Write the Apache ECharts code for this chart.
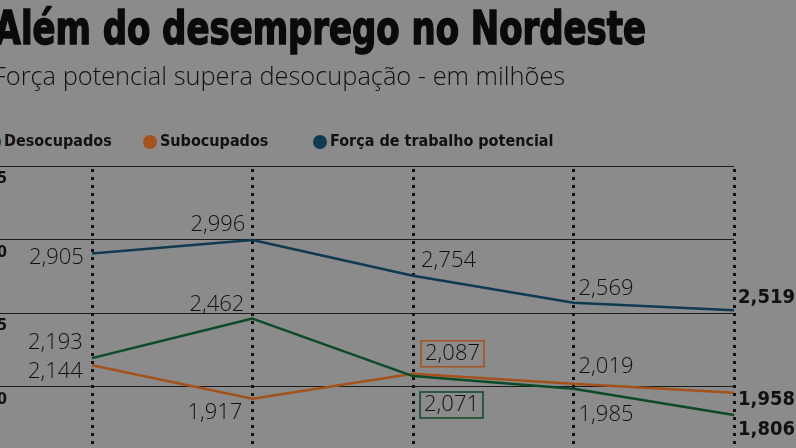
<!DOCTYPE html>
<html>
<head>
<meta charset="utf-8">
<script src="https://cdn.jsdelivr.net/npm/echarts@6/dist/echarts.min.js"></script>
<style>
  html, body { margin: 0; padding: 0; background: #8b8b8b; }
  #chart { width: 796px; height: 448px; }
</style>
</head>
<body>
<div id="chart"></div>
<script>
// valores em milhões, cinco períodos (rótulos do eixo x ficam fora do recorte)
const periods = [0, 1, 2, 3, 4];
const desocupados = [2.193, 2.462, 2.071, 1.985, 1.806];
const subocupados = [2.144, 1.917, 2.087, 2.019, 1.958];
const forcaPotencial = [2.905, 2.996, 2.754, 2.569, 2.519];
const yTicks = [1.5, 2.0, 2.5, 3.0, 3.5];

const labelFont = "'Open Sans', sans-serif";
const boldFont = "'DejaVu Sans Condensed', sans-serif";

const fmt = v => v.toFixed(3).replace(".", ",");

// placement of each value label: [position, distance, offsetY, boxed]
const forcaPos = [["left", 8, 4], ["left", 7, -15], ["right", 8, -15], ["right", 5, -14], ["right", 4, -12]];
const desocPos = [["left", 9, -15], ["left", 8, -14], ["right", 7, 29, true], ["right", 5, 26], ["right", 4, 15]];
const subocPos = [["left", 9, 6], ["left", 10, 14], ["right", 8, -20, true], ["right", 5, -17], ["right", 4, 7]];

function buildData(values, pos, color) {
  return values.map((v, i) => {
    const p = pos[i];
    const last = i === values.length - 1;
    const label = {
      show: true,
      position: p[0],
      distance: p[1],
      offset: [0, p[2]],
      formatter: () => fmt(v),
      color: "#111",
      fontFamily: last ? boldFont : labelFont,
      fontWeight: last ? "bold" : 300,
      fontSize: last ? 20 : 22
    };
    if (p[3]) {
      label.borderColor = color;
      label.borderWidth = 1.5;
      label.padding = [3, 4, 1, 4];
    }
    return { value: [periods[i], v], label: label };
  });
}

const chart = echarts.init(document.getElementById("chart"));

const colors = {
  desoc: "#0d4a28",
  suboc: "#a3521d",
  forca: "#0f3a50"
};

function legendAt(name, left) {
  return {
    data: [name],
    left: left,
    top: 129,
    icon: "circle",
    itemWidth: 14,
    itemHeight: 14,
    itemGap: 0,
    selectedMode: false,
    textStyle: {
      fontFamily: boldFont,
      fontWeight: "bold",
      fontSize: 16,
      color: "#111",
      padding: [0, 0, 0, -2]
    }
  };
}

chart.setOption({
  backgroundColor: "#8b8b8b",
  animation: false,
  graphic: [
    {
      type: "text",
      left: -6,
      top: 8,
      scaleX: 0.82,
      style: {
        text: "Além do desemprego no Nordeste",
        font: "bold 46px 'DejaVu Sans Condensed', sans-serif",
        fill: "#0a0a0a",
        stroke: "#0a0a0a",
        lineWidth: 1.5
      }
    }
  ],
  title: [
    {
      text: "Força potencial supera desocupação - em milhões",
      left: -12,
      top: 60,
      textStyle: { fontFamily: labelFont, fontWeight: 300, fontSize: 25.4, color: "#111" }
    }
  ],
  legend: [
    legendAt("Desocupados", -18),
    legendAt("Subocupados", 138),
    legendAt("Força de trabalho potencial", 308)
  ],
  grid: { left: 0, right: 62, top: 166, bottom: -12, outerBoundsMode: "none" },
  xAxis: {
    type: "value",
    min: -0.573,
    max: 4,
    show: false
  },
  yAxis: {
    type: "value",
    min: yTicks[0],
    max: yTicks[yTicks.length - 1],
    interval: 0.5,
    axisLine: { show: false },
    axisTick: { show: false },
    splitLine: { lineStyle: { color: "#1c1c1c", width: 1 } },
    axisLabel: {
      margin: -7,
      align: "right",
      verticalAlign: "top",
      padding: [5, 0, 0, 0],
      fontFamily: boldFont,
      fontWeight: "bold",
      fontSize: 16,
      color: "#111",
      formatter: v => v.toFixed(1).replace(".", ",")
    }
  },
  series: [
    {
      name: "Força de trabalho potencial",
      type: "line",
      data: buildData(forcaPotencial, forcaPos, colors.forca),
      color: colors.forca,
      symbol: "circle",
      symbolSize: 0.1,
      lineStyle: { width: 2.5 },
      z: 5,
      markLine: {
        silent: true,
        symbol: "none",
        label: { show: false },
        lineStyle: { color: "#111", type: [3, 5], width: 3, cap: "butt" },
        data: periods.map(p => ({ xAxis: p }))
      }
    },
    {
      name: "Desocupados",
      type: "line",
      data: buildData(desocupados, desocPos, colors.desoc),
      color: colors.desoc,
      symbol: "circle",
      symbolSize: 0.1,
      lineStyle: { width: 2.5 },
      z: 5
    },
    {
      name: "Subocupados",
      type: "line",
      data: buildData(subocupados, subocPos, colors.suboc),
      color: colors.suboc,
      symbol: "circle",
      symbolSize: 0.1,
      lineStyle: { width: 2.5 },
      z: 4
    }
  ]
});
</script>
</body>
</html>
